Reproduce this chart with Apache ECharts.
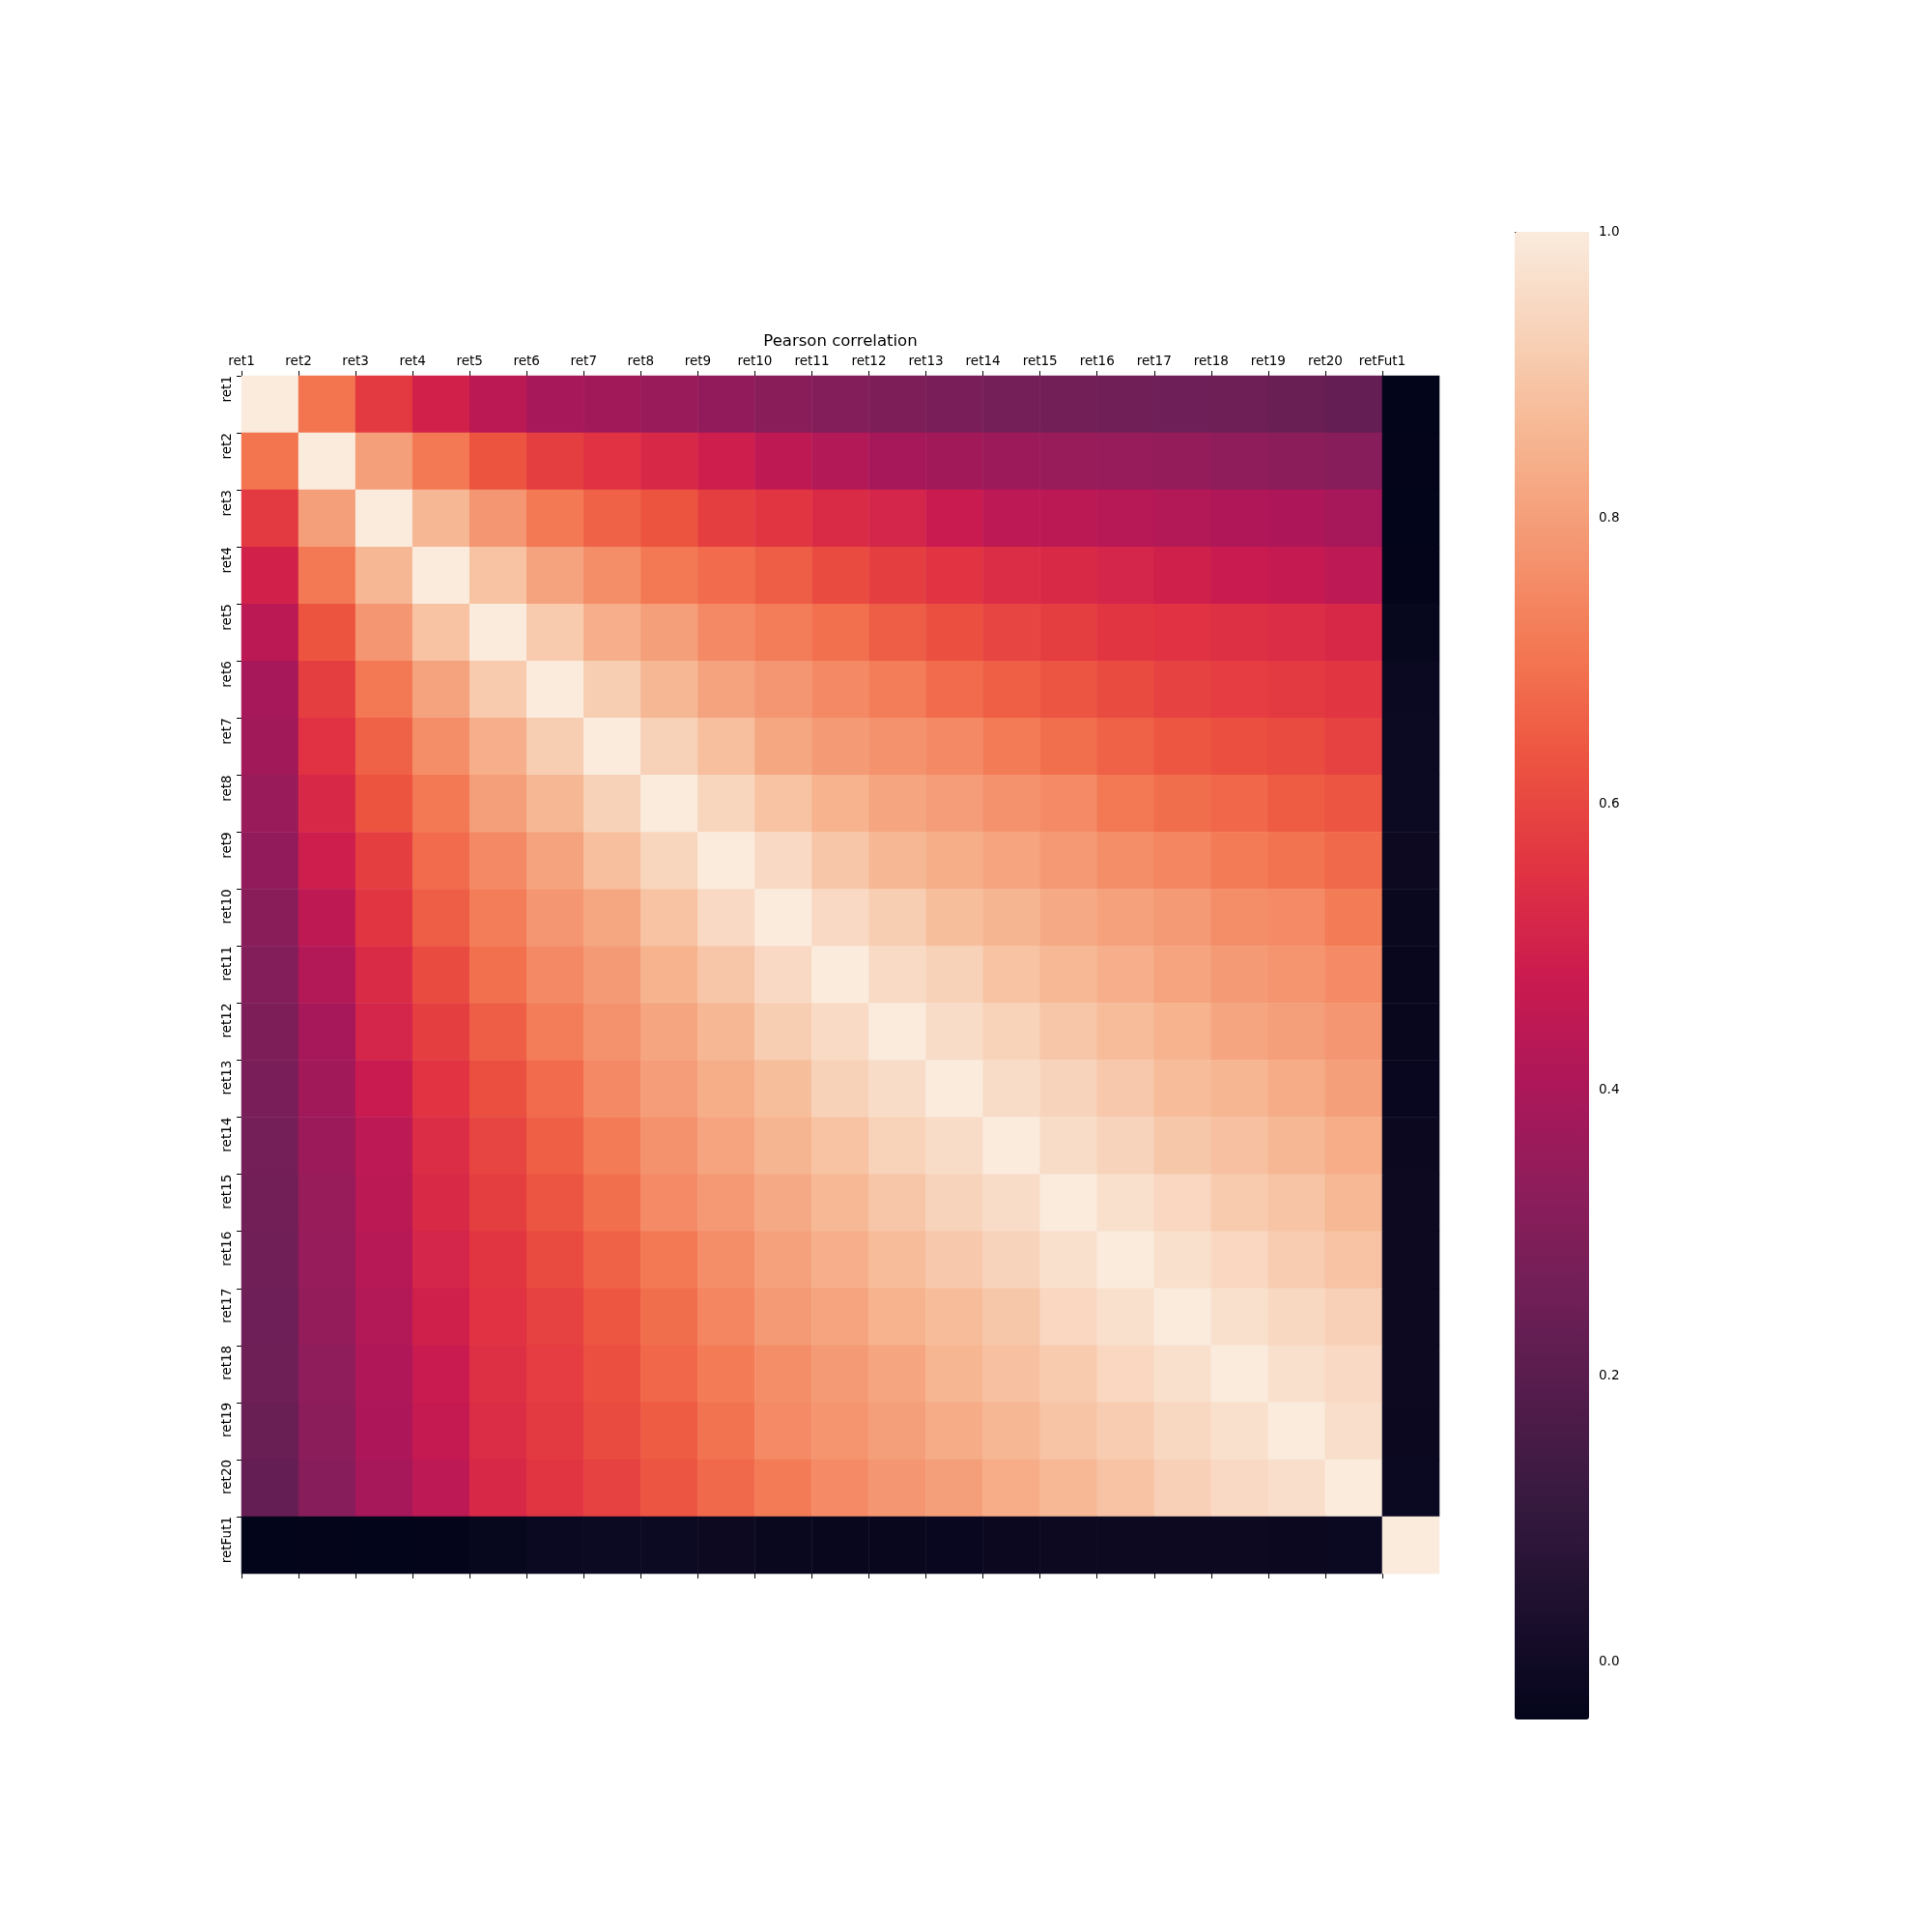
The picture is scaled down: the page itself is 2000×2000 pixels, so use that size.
<!DOCTYPE html>
<html><head><meta charset="utf-8">
<script src="https://cdn.jsdelivr.net/npm/echarts@6/dist/echarts.min.js"></script>
<style>html,body{margin:0;padding:0;background:#fff}#c{width:2000px;height:2000px}</style>
</head><body><div id="c"></div>
<script>
const labels = ['ret1','ret2','ret3','ret4','ret5','ret6','ret7','ret8','ret9','ret10','ret11','ret12','ret13','ret14','ret15','ret16','ret17','ret18','ret19','ret20','retFut1'];

const ret1  = [1.00, 0.70, 0.57, 0.50, 0.44, 0.39, 0.38, 0.36, 0.34, 0.32, 0.305, 0.29, 0.28, 0.27, 0.265, 0.26, 0.255, 0.25, 0.24, 0.23, -0.040];
const ret2  = [0.70, 1.00, 0.80, 0.71, 0.63, 0.58, 0.55, 0.52, 0.49, 0.45, 0.42, 0.39, 0.38, 0.365, 0.355, 0.35, 0.345, 0.335, 0.325, 0.315, -0.037];
const ret3  = [0.57, 0.80, 1.00, 0.86, 0.78, 0.71, 0.66, 0.63, 0.58, 0.56, 0.53, 0.51, 0.475, 0.445, 0.44, 0.43, 0.42, 0.41, 0.405, 0.39, -0.039];
const ret4  = [0.50, 0.71, 0.86, 1.00, 0.89, 0.81, 0.76, 0.71, 0.68, 0.65, 0.61, 0.58, 0.555, 0.535, 0.525, 0.51, 0.495, 0.475, 0.465, 0.445, -0.038];
const ret5  = [0.44, 0.63, 0.78, 0.89, 1.00, 0.91, 0.84, 0.80, 0.75, 0.72, 0.69, 0.65, 0.62, 0.595, 0.58, 0.56, 0.55, 0.545, 0.535, 0.52, -0.028];
const ret6  = [0.39, 0.58, 0.71, 0.81, 0.91, 1.00, 0.92, 0.86, 0.81, 0.78, 0.75, 0.72, 0.68, 0.655, 0.632, 0.61, 0.59, 0.578, 0.57, 0.558, -0.015];
const ret7  = [0.38, 0.55, 0.66, 0.76, 0.84, 0.92, 1.00, 0.93, 0.88, 0.82, 0.79, 0.77, 0.75, 0.717, 0.687, 0.66, 0.637, 0.62, 0.61, 0.59, -0.012];
const ret8  = [0.36, 0.52, 0.63, 0.71, 0.80, 0.86, 0.93, 1.00, 0.94, 0.89, 0.85, 0.815, 0.797, 0.77, 0.752, 0.71, 0.685, 0.67, 0.647, 0.632, -0.012];
const ret9  = [0.34, 0.49, 0.58, 0.68, 0.75, 0.81, 0.88, 0.94, 1.00, 0.95, 0.90, 0.86, 0.837, 0.812, 0.787, 0.76, 0.742, 0.717, 0.697, 0.675, -0.014];
const ret10 = [0.32, 0.45, 0.56, 0.65, 0.72, 0.78, 0.82, 0.89, 0.95, 1.00, 0.95, 0.92, 0.877, 0.855, 0.827, 0.805, 0.79, 0.76, 0.752, 0.715, -0.020];
const ret11 = [0.305, 0.42, 0.53, 0.61, 0.69, 0.75, 0.79, 0.85, 0.90, 0.95, 1.00, 0.955, 0.93, 0.89, 0.862, 0.84, 0.812, 0.792, 0.777, 0.752, -0.024];
const ret12 = [0.29, 0.39, 0.51, 0.58, 0.65, 0.72, 0.77, 0.815, 0.86, 0.92, 0.955, 1.00, 0.96, 0.932, 0.90, 0.872, 0.85, 0.815, 0.80, 0.78, -0.024];
const ret13 = [0.28, 0.38, 0.475, 0.555, 0.62, 0.68, 0.75, 0.797, 0.837, 0.877, 0.93, 0.96, 1.00, 0.96, 0.935, 0.905, 0.875, 0.857, 0.832, 0.80, -0.022];
const ret14 = [0.27, 0.365, 0.445, 0.535, 0.595, 0.655, 0.717, 0.77, 0.812, 0.855, 0.89, 0.932, 0.96, 1.00, 0.96, 0.935, 0.902, 0.885, 0.86, 0.835, -0.016];
const ret15 = [0.265, 0.355, 0.44, 0.525, 0.58, 0.632, 0.687, 0.752, 0.787, 0.827, 0.862, 0.90, 0.935, 0.96, 1.00, 0.97, 0.945, 0.912, 0.895, 0.862, -0.014];
const ret16 = [0.26, 0.35, 0.43, 0.51, 0.56, 0.61, 0.66, 0.71, 0.76, 0.805, 0.84, 0.872, 0.905, 0.935, 0.97, 1.00, 0.97, 0.945, 0.915, 0.892, -0.014];
const ret17 = [0.255, 0.345, 0.42, 0.495, 0.55, 0.59, 0.637, 0.685, 0.742, 0.79, 0.812, 0.85, 0.875, 0.902, 0.945, 0.97, 1.00, 0.97, 0.947, 0.927, -0.013];
const ret18 = [0.25, 0.335, 0.41, 0.475, 0.545, 0.578, 0.62, 0.67, 0.717, 0.76, 0.792, 0.815, 0.857, 0.885, 0.912, 0.945, 0.97, 1.00, 0.97, 0.95, -0.014];
const ret19 = [0.24, 0.325, 0.405, 0.465, 0.535, 0.57, 0.61, 0.647, 0.697, 0.752, 0.777, 0.80, 0.832, 0.86, 0.895, 0.915, 0.947, 0.97, 1.00, 0.965, -0.016];
const ret20 = [0.23, 0.315, 0.39, 0.445, 0.52, 0.558, 0.59, 0.632, 0.675, 0.715, 0.752, 0.78, 0.80, 0.835, 0.862, 0.892, 0.927, 0.95, 0.965, 1.00, -0.015];
const retFut1 = [-0.040, -0.037, -0.039, -0.038, -0.028, -0.015, -0.012, -0.012, -0.014, -0.020, -0.024, -0.024, -0.022, -0.016, -0.014, -0.014, -0.013, -0.014, -0.016, -0.015, 1.00];

const rows = [ret1, ret2, ret3, ret4, ret5, ret6, ret7, ret8, ret9, ret10, ret11, ret12, ret13, ret14, ret15, ret16, ret17, ret18, ret19, ret20, retFut1];

const colorbarTicks = [0.0, 0.2, 0.4, 0.6, 0.8, 1.0];
const colorMin = -0.04;
const colorMax = 1.0;
// "rocket"-like colormap, evenly spaced stops
const rocket = ['#03051a', '#1c0f2e', '#35193e', '#521c4b', '#701f57', '#8e1d5b', '#ad1759', '#cb1b4f',
                '#e13342', '#ec5340', '#f37651', '#f49570', '#f6b48f', '#f8d0b6', '#faebdd'];

const data = [];
rows.forEach((row, i) => row.forEach((v, j) => data.push([j, i, v])));
const tickIdx = labels.map((_, i) => i);

const FONT = 'DejaVu Sans';
const labelStyle = { fontFamily: FONT, fontSize: 13.5, color: '#000' };
const tickStyle = { show: true, length: 5, lineStyle: { color: '#000', width: 1 } };

const chart = echarts.init(document.getElementById('c'), null, { renderer: 'canvas' });
chart.setOption({
  animation: false,
  backgroundColor: '#ffffff',
  title: {
    text: 'Pearson correlation', left: 870, top: 345, textAlign: 'center', padding: 0,
    textStyle: { fontFamily: FONT, fontSize: 16.5, fontWeight: 'normal', color: '#000' }
  },
  grid: [
    { left: 250, top: 389, width: 1240, height: 1240 },
    { left: 1568, top: 240, width: 77, height: 1540 }
  ],
  xAxis: [
    { type: 'category', gridIndex: 0, data: labels, show: false },
    { type: 'value', gridIndex: 0, position: 'top', min: 0, max: 21,
      axisLine: { show: false }, splitLine: { show: false },
      axisTick: Object.assign({ customValues: tickIdx }, tickStyle),
      axisLabel: Object.assign({ customValues: tickIdx, margin: 8, formatter: v => labels[v] || '' }, labelStyle) },
    { type: 'value', gridIndex: 0, position: 'bottom', min: 0, max: 21,
      axisLine: { show: false }, splitLine: { show: false },
      axisTick: Object.assign({ customValues: tickIdx }, tickStyle),
      axisLabel: { show: false } },
    { type: 'value', gridIndex: 1, min: 0, max: 1, show: false }
  ],
  yAxis: [
    { type: 'category', gridIndex: 0, data: labels, inverse: true, show: false },
    { type: 'value', gridIndex: 0, position: 'left', min: 0, max: 21, inverse: true,
      axisLine: { show: false }, splitLine: { show: false },
      axisTick: Object.assign({ customValues: tickIdx }, tickStyle),
      axisLabel: Object.assign({ customValues: tickIdx, rotate: 90, align: 'right', verticalAlign: 'bottom', margin: 8, formatter: v => labels[v] || '' }, labelStyle) },
    { type: 'value', gridIndex: 1, position: 'right', min: colorMin, max: colorMax,
      axisLine: { show: false }, splitLine: { show: false },
      axisTick: Object.assign({ customValues: colorbarTicks }, tickStyle),
      axisLabel: Object.assign({ customValues: colorbarTicks, margin: 10, formatter: v => v.toFixed(1) }, labelStyle) }
  ],
  visualMap: {
    type: 'continuous', min: colorMin, max: colorMax, calculable: false, seriesIndex: 0,
    left: 1568, top: 240, itemWidth: 77, itemHeight: 1540, padding: 0,
    text: null, showLabel: false, hoverLink: false,
    inRange: { color: rocket }
  },
  series: [{
    type: 'heatmap', xAxisIndex: 0, yAxisIndex: 0, data: data,
    progressive: 0, emphasis: { disabled: true }, itemStyle: { borderWidth: 0 }
  }]
});
</script>
</body></html>
